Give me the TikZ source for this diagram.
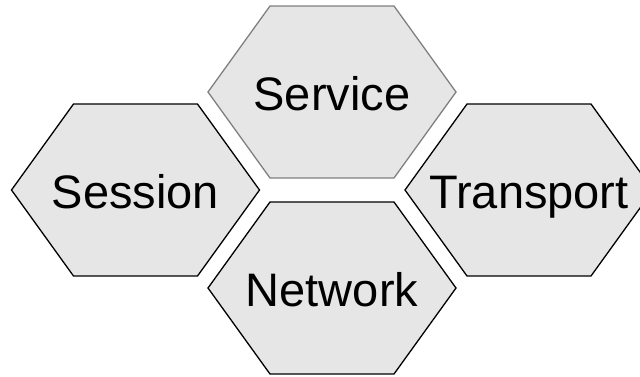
\documentclass[tikz,border=0pt]{standalone}
\usepackage{fontspec}
\setmainfont{Liberation Sans}
\definecolor{cellfill}{RGB}{230,230,230}

\begin{document}
\begin{tikzpicture}[x=1pt,y=-1pt,font=\fontsize{47}{53}\selectfont,
  cell/.style={fill=cellfill,draw=black,line width=1.3pt,line join=miter},
  label/.style={anchor=base,inner sep=0pt}]

\useasboundingbox (0,0) rectangle (640,376);
\clip (0,0) rectangle (640,376);

%centres of the cells
\coordinate (serv) at (332,92);
\coordinate (sess) at (135.5,190);
\coordinate (trans) at (529,190);
\coordinate (netw) at (332,288);

%hexagons
\draw[cell,draw=black!50,shift={(serv)}] (-124,0) -- (-62,-86) -- (62,-86) -- (124,0) -- (62,86) -- (-62,86) -- cycle;
\draw[cell,shift={(sess)}] (-124,0) -- (-62,-86) -- (62,-86) -- (124,0) -- (62,86) -- (-62,86) -- cycle;
\draw[cell,shift={(trans)}] (-124,0) -- (-62,-86) -- (62,-86) -- (124,0) -- (62,86) -- (-62,86) -- cycle;
\draw[cell,shift={(netw)}] (-124,0) -- (-62,-86) -- (62,-86) -- (124,0) -- (62,86) -- (-62,86) -- cycle;

%labels
\node[label] (servtext) at ([yshift=-18.5pt]serv) {Service};
\node[label] (sesstext) at ([yshift=-18.5pt]sess) {Session};
\node[label] (transtext) at ([yshift=-18.5pt]trans) {Transport};
\node[label] (netwtext) at ([yshift=-18.5pt]netw) {Network};

\end{tikzpicture}
\end{document}
